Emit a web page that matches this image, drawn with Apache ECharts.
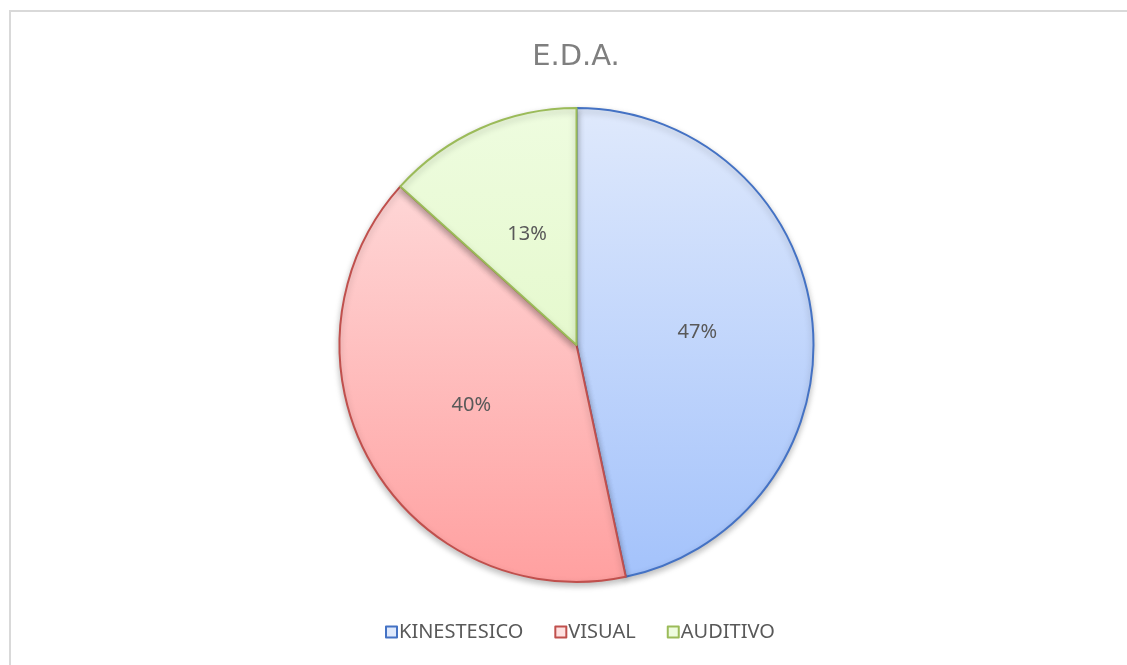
<!DOCTYPE html>
<html>
<head>
<meta charset="utf-8">
<script src="https://cdn.jsdelivr.net/npm/echarts@6/dist/echarts.min.js"></script>
<style>
  html, body { margin: 0; padding: 0; background: #fff; }
  #frame {
    position: absolute; left: 9px; top: 10px;
    width: 1200px; height: 700px;
    border: 2px solid #d9d9d9; box-sizing: border-box;
  }
  #chart { position: absolute; left: 0; top: 0; width: 1127px; height: 665px; }
</style>
</head>
<body>
<div id="frame"></div>
<div id="chart"></div>
<script>
// datos del gráfico
const categorias = ['KINESTESICO', 'VISUAL', 'AUDITIVO'];
const valores = [7, 6, 2];
const bordes = ['#4472c4', '#c0504d', '#9bbb59'];
const rellenoArriba = ['#dfe9fc', '#fee1e1', '#eefcdf'];
const rellenoAbajo = ['#a3c2fb', '#ffa0a0', '#ddf6bd'];

const cx = 576.5, cy = 345, radio = 237;

function degradado(i) {
  return new echarts.graphic.LinearGradient(0, cy - radio, 0, cy + radio, [
    { offset: 0, color: rellenoArriba[i] },
    { offset: 1, color: rellenoAbajo[i] }
  ], true);
}

const chart = echarts.init(document.getElementById('chart'));

const option = {
  animation: false,
  title: {
    text: 'E.D.A.',
    left: 571,
    textAlign: 'center',
    top: 38,
    textStyle: {
      fontFamily: 'DejaVu Sans',
      fontWeight: 'normal',
      fontSize: 29,
      color: '#7f7f7f'
    }
  },
  legend: {
    bottom: 18,
    left: 380,
    itemWidth: 11,
    itemHeight: 11,
    itemGap: 31,
    icon: 'rect',
    textStyle: {
      fontFamily: 'Noto Sans',
      fontSize: 20,
      color: '#595959',
      padding: [0, 0, 0, -3]
    },
    data: categorias.map((c, i) => ({
      name: c,
      itemStyle: {
        color: rellenoArriba[i],
        borderColor: bordes[i],
        borderWidth: 2
      }
    }))
  },
  series: [
    {
      type: 'pie',
      center: [cx, cy],
      radius: radio,
      startAngle: 90,
      clockwise: true,
      label: {
        position: 'inner',
        formatter: (p) => Math.round(p.percent) + '%',
        fontFamily: 'Noto Sans',
        fontSize: 20,
        color: '#595959'
      },
      labelLine: { show: false },
      emphasis: { disabled: true },
      data: categorias.map((c, i) => ({
        name: c,
        value: valores[i],
        itemStyle: {
          color: degradado(i),
          borderColor: bordes[i],
          borderWidth: 2,
          shadowBlur: 6,
          shadowOffsetY: 3,
          shadowColor: 'rgba(0,0,0,0.25)'
        }
      }))
    }
  ]
};

chart.setOption(option);
</script>
</body>
</html>
